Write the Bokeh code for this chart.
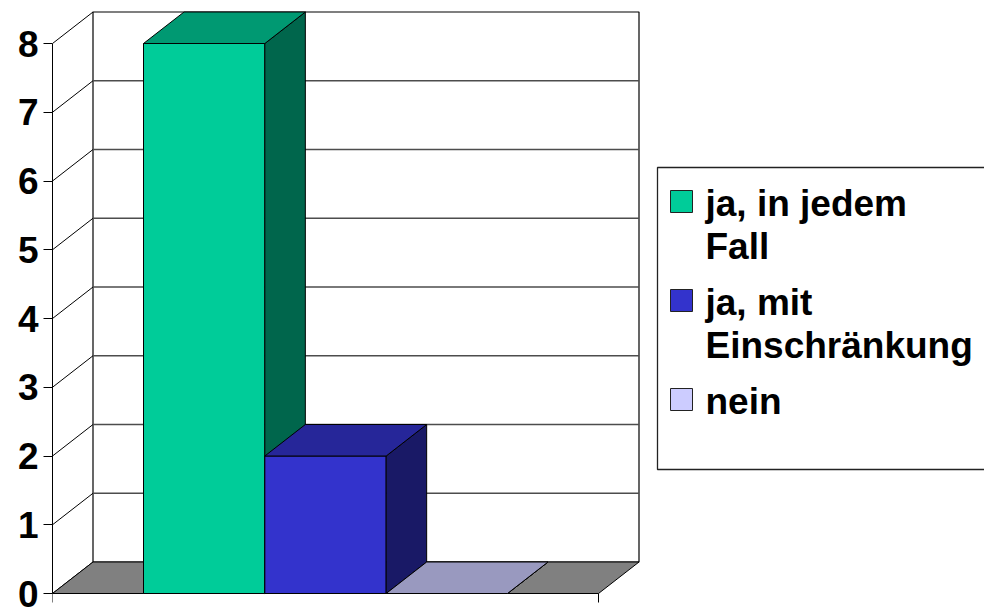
import numpy as np
from bokeh.plotting import figure
from bokeh.models import Range1d, FixedTicker
from bokeh.core.properties import value
from bokeh.embed import file_html
from bokeh.resources import INLINE

# ---------------- data ----------------
categories = ["ja, in jedem Fall", "ja, mit Einschränkung", "nein"]
legend_labels = [["ja, in jedem", "Fall"], ["ja, mit", "Einschränkung"], ["nein"]]
values = [8, 2, 0]
front_colors = ["#00CC99", "#3333CC", "#CCCCFF"]
y_ticks = [0, 1, 2, 3, 4, 5, 6, 7, 8]
y_max = 8

# ---------------- layout / projection (pixels) ----------------
W, H = 984, 608
LEFT = 52              # frame left border = front value axis
PX_X = 546.0           # pixels per category unit
PX_Y = 68.75           # pixels per value unit
Y0_PX = 593            # pixel row of value 0
DEPTH_PX = (40.5, 31.5)
GAP = 1.5              # gap width, in bar widths
FONT = "Liberation Sans"
TICK_FONT_SIZE = "37px"
LEG_FONT_SIZE = "37px"

# legend layout (pixels)
LEG_LEFT, LEG_RIGHT, LEG_TOP, LEG_BOTTOM = 657, 995, 167, 469
KEY_X, KEY_SIZE, TEXT_X = 670, 22, 705
FIRST_BASELINE, LINE_STEP, ENTRY_STEP = 213, 43, 56
TEXT_DY = -10          # correction between requested and drawn baseline

x_start, x_end = 0.0, (W - LEFT) / PX_X
y_start, y_end = -(H - Y0_PX) / PX_Y, Y0_PX / PX_Y
dx = DEPTH_PX[0] / PX_X
dy = DEPTH_PX[1] / PX_Y


def X(px):
    return (px - LEFT) / PX_X


def Y(py):
    return (Y0_PX - py) / PX_Y


def shade(hex_color, f):
    h = hex_color.lstrip("#")
    r, g, b = (int(h[i:i + 2], 16) for i in (0, 2, 4))
    return "#%02x%02x%02x" % (int(r * f), int(g * f), int(b * f))


p = figure(width=W, height=H, output_backend="svg", toolbar_location=None,
           x_range=Range1d(x_start, x_end), y_range=Range1d(y_start, y_end),
           min_border_left=LEFT, min_border_right=0, min_border_top=0,
           min_border_bottom=0, x_axis_location=None)
p.xgrid.visible = False
p.ygrid.visible = False
p.outline_line_color = None
p.background_fill_color = "white"
p.border_fill_color = "white"

# back wall
p.patch([dx, 1 + dx, 1 + dx, dx], [dy, dy, y_max + dy, y_max + dy],
        fill_color="white", line_color="black", line_width=1.2)
# gridlines on the back wall
inner = y_ticks[1:-1]
p.segment(x0=[dx] * len(inner), y0=[t + dy for t in inner],
          x1=[1 + dx] * len(inner), y1=[t + dy for t in inner],
          line_color="#4d4d4d", line_width=1.6)
# left wall lines
p.segment(x0=[0] * len(y_ticks), y0=y_ticks,
          x1=[dx] * len(y_ticks), y1=[t + dy for t in y_ticks],
          line_color="black", line_width=1)
# floor
p.patch([0, 1, 1 + dx, dx], [0, 0, dy, dy],
        fill_color="#808080", line_color="black", line_width=1)
# category-edge ticks below the floor
tick_len = 9 / PX_Y
p.segment(x0=[0, 1], y0=[0, 0], x1=[0, 1], y1=[-tick_len, -tick_len],
          line_color="black", line_width=1)

# bars
n = len(values)
unit = 1.0 / (n + GAP)
for i, (v, c) in enumerate(zip(values, front_colors)):
    x0 = GAP / 2 * unit + i * unit
    x1 = x0 + unit
    p.quad(left=[x0], right=[x1], bottom=[0], top=[v],
           fill_color=c, line_color="black", line_width=1)
    # side face
    p.patch([x1, x1 + dx, x1 + dx, x1], [0, dy, v + dy, v],
            fill_color=shade(c, 0.5), line_color="black", line_width=1)
    # top face
    p.patch([x0, x1, x1 + dx, x0 + dx], [v, v, v + dy, v + dy],
            fill_color=shade(c, 0.75), line_color="black", line_width=1)

# value axis
yax = p.yaxis[0]
yax.ticker = FixedTicker(ticks=y_ticks)
yax.bounds = (0, y_max)
yax.major_label_text_font = FONT
yax.major_label_text_font_style = "bold"
yax.major_label_text_font_size = TICK_FONT_SIZE
yax.major_label_text_color = "black"
yax.major_tick_out = 9
yax.major_tick_in = 0
yax.minor_tick_out = 0
yax.minor_tick_in = 0
yax.axis_line_color = "black"
yax.major_tick_line_color = "black"
yax.major_label_standoff = 5

# legend
p.quad(left=[X(LEG_LEFT)], right=[X(LEG_RIGHT)], top=[Y(LEG_TOP)], bottom=[Y(LEG_BOTTOM)],
       fill_color="white", line_color="#222222", line_width=1.3)
baseline = FIRST_BASELINE
key_l, key_r, key_t, key_b = [], [], [], []
tx, ty, tt = [], [], []
for i, lines in enumerate(legend_labels):
    key_l.append(X(KEY_X))
    key_r.append(X(KEY_X + KEY_SIZE))
    key_t.append(Y(baseline - 1 - KEY_SIZE))
    key_b.append(Y(baseline - 1))
    for j, line in enumerate(lines):
        tx.append(X(TEXT_X))
        ty.append(Y(baseline + TEXT_DY))
        tt.append(line)
        if j < len(lines) - 1:
            baseline += LINE_STEP
    baseline += ENTRY_STEP
p.quad(left=key_l, right=key_r, top=key_t, bottom=key_b,
       fill_color=front_colors, line_color="#222222", line_width=1)
p.text(x=tx, y=ty, text=tt, text_font=value(FONT), text_font_style="bold",
       text_font_size=LEG_FONT_SIZE, text_color="black",
       text_align="left", text_baseline="alphabetic")

open("out.html", "w").write(file_html(p, INLINE))
